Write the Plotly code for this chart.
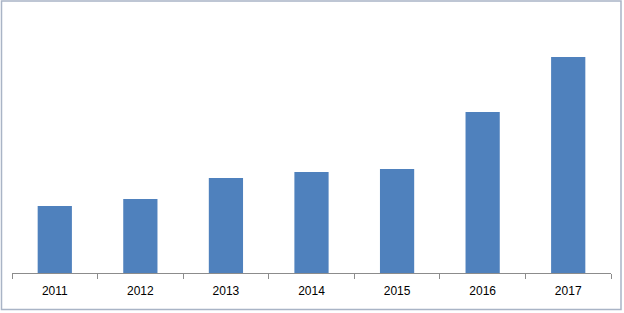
import plotly.graph_objects as go

years = ["2011", "2012", "2013", "2014", "2015", "2016", "2017"]
values = [67, 74, 95, 101, 104, 161, 216]

W, H = 624, 313
ML, MR, MT, MB = 12, 13, 33, 40
pw = W - ML - MR
ph = H - MT - MB

fig = go.Figure(go.Bar(x=years, y=values, marker=dict(color="#4F81BD", line=dict(width=0)),
                       width=0.4))

fig.update_layout(
    width=W, height=H,
    margin=dict(l=ML, r=MR, t=MT, b=MB),
    paper_bgcolor="white", plot_bgcolor="white",
    showlegend=False,
    xaxis=dict(type="category", range=[-0.5, 6.5], showline=True, linecolor="#8C8C8C",
               linewidth=1, ticks="outside", tickson="boundaries", ticklen=5,
               tickcolor="#8C8C8C", showgrid=False, zeroline=False,
               ticklabelstandoff=7,
               tickfont=dict(family="Liberation Sans, Arial", size=12, color="#000000")),
    yaxis=dict(range=[0, 240], visible=False, showgrid=False, zeroline=False),
    bargap=0.6,
)

# outer chart border
fig.add_shape(type="rect", xref="paper", yref="paper",
              x0=(1.5 - ML) / pw, x1=(621 - ML) / pw,
              y0=(H - MB - 309.5) / ph, y1=(H - MB - 1) / ph,
              line=dict(color="#A9B4C6", width=1.5), fillcolor="rgba(0,0,0,0)", layer="above")

fig.write_html("out.html")
